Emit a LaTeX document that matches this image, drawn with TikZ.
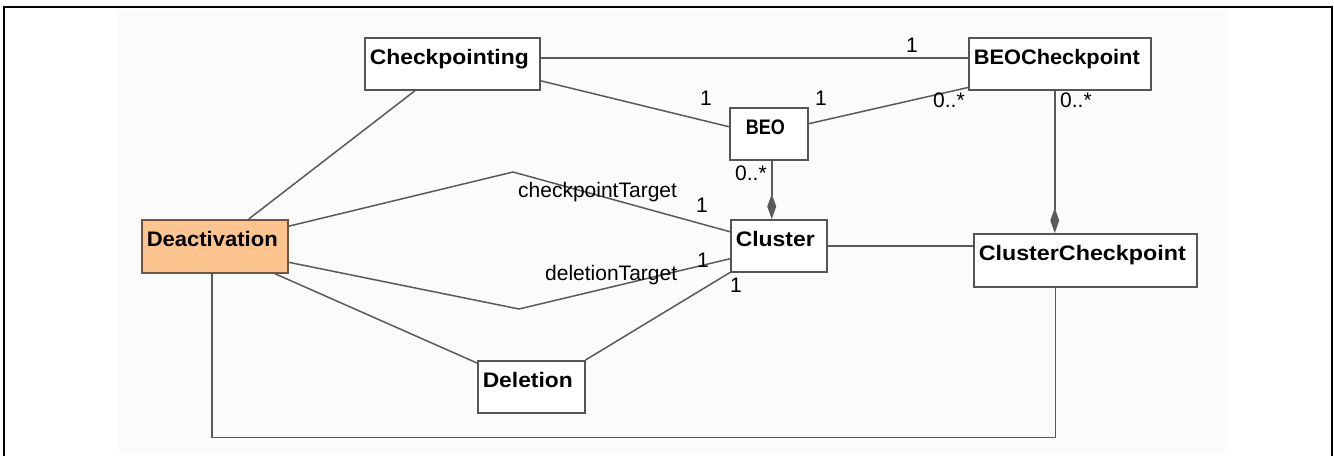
\documentclass[tikz,border=0pt]{standalone}
\usepackage{fontspec}
\setmainfont{Liberation Sans}
\usetikzlibrary{arrows.meta}
\definecolor{wire}{HTML}{5A5A5A}
\definecolor{boxedge}{HTML}{555555}
\definecolor{peach}{HTML}{FCC48F}
\definecolor{peachedge}{HTML}{6E5642}
\definecolor{canvas}{HTML}{FBFBFB}
% bold class name squeezed to a given width, natural height kept
\newcommand\namefit[2]{\resizebox{#1pt}{\height}{\bfseries #2}}

\begin{document}
\begin{tikzpicture}[x=1pt,y=-1pt,
  cls/.style={draw=boxedge, line width=1.5pt, fill=white, anchor=north west,
    inner xsep=5pt, inner ysep=0pt, text height=27pt, align=left,
    font=\fontsize{21}{25}\selectfont},
  mult/.style={anchor=base west, inner sep=0pt, font=\fontsize{21}{25}\selectfont},
  assoc/.style={draw=wire, line width=1.5pt},
  compo/.style={assoc, -{Diamond[length=25pt,width=9pt,fill=wire]}},
]
\useasboundingbox (0,0) rectangle (1334,456);
\fill[canvas] (118,10) rectangle (1228,453);
\draw[line width=1.8pt] (4,456) -- (4,6.6) -- (1332,6.6) -- (1332,456);

% classes
\node[cls, text width=165pt, text depth=25pt] (chk) at (364,37) {\namefit{159}{Checkpointing}};
\node[cls, text width=172pt, text depth=25pt] (beochk) at (968,37) {\namefit{166}{BEOCheckpoint}};
\node[cls, text width=68pt, text depth=25pt] (beo) at (729,107) {\hspace*{11pt}\namefit{39}{BEO}};
\node[cls, text width=136pt, text depth=26pt, fill=peach, draw=peachedge] (deact) at (141,219) {\namefit{131}{Deactivation}};
\node[cls, text width=86pt, text depth=25pt] (cl) at (730,219) {\namefit{79}{Cluster}};
\node[cls, text width=213pt, text depth=26pt] (clchk) at (973,233) {\namefit{207}{ClusterCheckpoint}};
\node[cls, text width=97pt, text depth=25pt] (del) at (477,360) {\namefit{90}{Deletion}};

% bend points of the two target associations
\coordinate (ctbend) at (513,172);
\coordinate (dtbend) at (519,309);

% associations
\draw[assoc] ([yshift=6pt]chk.east) -- ([yshift=6pt]beochk.west);
\draw[assoc] ([yshift=-17pt]chk.east) -- ([yshift=7pt]beo.west);
\draw[assoc] ([yshift=10pt]beo.east) -- ([yshift=3pt]beochk.south west);
\draw[assoc] (cl.east) -- (cl.east -| clchk.west);
\draw[assoc] ([xshift=34pt]deact.north) -- ([xshift=-37pt]chk.south);
\draw[assoc] ([yshift=20pt]deact.east) -- (ctbend) -- ([yshift=14pt]cl.west);
\draw[assoc] ([yshift=-16pt]deact.east) -- (dtbend) -- ([yshift=-13pt]cl.west);
\draw[assoc] ([xshift=-14pt]deact.south east) -- ([yshift=-3pt]del.north west);
\draw[assoc] (del.north east) -- (cl.south west);
\draw[assoc] ([xshift=-3pt]deact.south) -- ++(0,164) -| ([xshift=-30pt]clchk.south);

% compositions
\draw[compo] ([xshift=3pt]beo.south) -- ([xshift=3pt]beo.south |- cl.north);
\draw[compo] ([xshift=-5pt]beochk.south) -- ([xshift=-5pt]beochk.south |- clchk.north);

% role names and multiplicities
\node[mult] (m1) at (906,52) {1};
\node[mult] (m2) at (700,105) {1};
\node[mult] (m3) at (815,105) {1};
\node[mult] (m4) at (933,107) {0..*};
\node[mult] (m5) at (1060,107) {0..*};
\node[mult] (m6) at (735,180) {0..*};
\node[mult] (rolect) at (518,197) {checkpointTarget};
\node[mult] (m7) at (696,212) {1};
\node[mult] (roledt) at (545,280) {deletionTarget};
\node[mult] (m8) at (697,267) {1};
\node[mult] (m9) at (730,292) {1};
\end{tikzpicture}
\end{document}
